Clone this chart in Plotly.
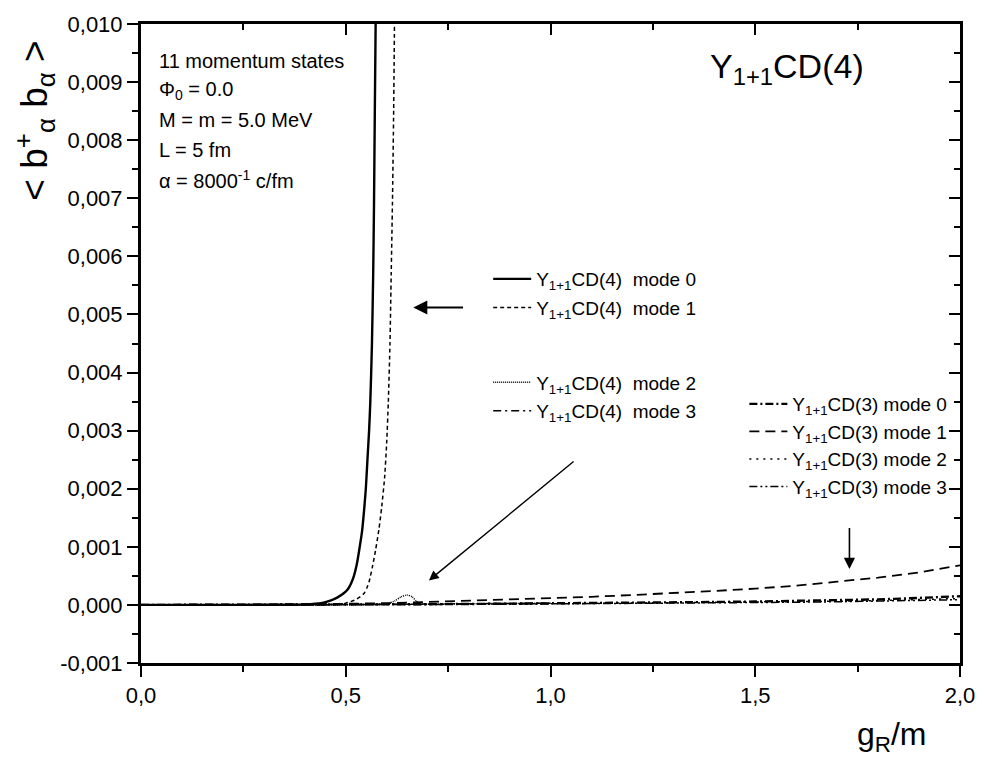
import plotly.graph_objects as go

# Scan in coupling g_R/m
g_cd4_0 = [0.0, 0.10, 0.20, 0.30, 0.40, 0.44, 0.464, 0.48, 0.495, 0.505, 0.513, 0.52, 0.527, 0.533, 0.540, 0.545, 0.549, 0.553, 0.557, 0.560, 0.564, 0.567, 0.569, 0.571, 0.573]
n_cd4_0 = [0.0, 0.0, 0.0, 0.000003, 0.00001, 0.00003, 0.00008, 0.00013, 0.00020, 0.00027, 0.00037, 0.00050, 0.00070, 0.00095, 0.00128, 0.00165, 0.0020, 0.0025, 0.0030, 0.0035, 0.0045, 0.0057, 0.0069, 0.0085, 0.0100]

g_cd4_1 = [0.0, 0.10, 0.20, 0.30, 0.40, 0.48, 0.50, 0.521, 0.535, 0.545, 0.552, 0.557, 0.565, 0.573, 0.581, 0.588, 0.595, 0.600, 0.604, 0.608, 0.611, 0.614, 0.617, 0.619]
n_cd4_1 = [0.0, 0.0, 0.0, 0.0, 0.000002, 0.00001, 0.00003, 0.00008, 0.00014, 0.00020, 0.00030, 0.00040, 0.00065, 0.00095, 0.00130, 0.0017, 0.0022, 0.0028, 0.0035, 0.0045, 0.0057, 0.0069, 0.0085, 0.0100]

g_cd4_2 = [0.0, 0.20, 0.40, 0.55, 0.60, 0.62, 0.635, 0.650, 0.662, 0.672, 0.680, 0.70, 0.80, 1.0]
n_cd4_2 = [0.0, 0.0, 0.0, 0.000005, 0.00002, 0.00007, 0.00014, 0.00017, 0.00014, 0.00007, 0.00002, 0.000015, 0.00002, 0.00003]

g_cd4_3 = [0.0, 0.20, 0.40, 0.60, 0.80, 1.0]
n_cd4_3 = [0.0, 0.0, 0.000002, 0.00001, 0.00002, 0.00003]

g_cd3 = [0.0, 0.20, 0.40, 0.60, 0.70, 0.80, 0.90, 1.00, 1.10, 1.20, 1.30, 1.40, 1.50, 1.60, 1.70, 1.80, 1.90, 2.00]
n_cd3_0 = [0.0, 0.0, 0.000003, 0.000008, 0.000012, 0.000016, 0.00002, 0.000025, 0.00003, 0.000036, 0.000042, 0.00005, 0.000058, 0.000068, 0.00008, 0.000095, 0.00012, 0.00015]
n_cd3_1 = [0.0, 0.0, 0.000008, 0.00003, 0.00005, 0.00007, 0.00009, 0.00011, 0.00014, 0.00017, 0.00020, 0.00024, 0.00028, 0.00033, 0.00040, 0.00047, 0.00056, 0.00068]
n_cd3_2 = [0.0, 0.0, 0.000002, 0.000006, 0.000009, 0.000012, 0.000015, 0.00002, 0.000024, 0.000029, 0.000034, 0.00004, 0.000046, 0.000054, 0.000063, 0.000075, 0.00009, 0.00011]
n_cd3_3 = [0.0, 0.0, 0.000002, 0.000005, 0.000007, 0.00001, 0.000013, 0.000016, 0.00002, 0.000024, 0.000028, 0.000033, 0.000039, 0.000046, 0.000054, 0.000064, 0.000076, 0.00009]

x_ticks = [0.0, 0.5, 1.0, 1.5, 2.0]
x_tick_text = ["0,0", "0,5", "1,0", "1,5", "2,0"]
y_ticks = [-0.001, 0.0, 0.001, 0.002, 0.003, 0.004, 0.005, 0.006, 0.007, 0.008, 0.009, 0.010]
y_tick_text = ["-0,001", "0,000", "0,001", "0,002", "0,003", "0,004", "0,005", "0,006", "0,007", "0,008", "0,009", "0,010"]

cd4_names = ["Y<sub>1+1</sub>CD(4)  mode 0", "Y<sub>1+1</sub>CD(4)  mode 1",
             "Y<sub>1+1</sub>CD(4)  mode 2", "Y<sub>1+1</sub>CD(4)  mode 3"]
cd3_names = ["Y<sub>1+1</sub>CD(3) mode 0", "Y<sub>1+1</sub>CD(3) mode 1",
             "Y<sub>1+1</sub>CD(3) mode 2", "Y<sub>1+1</sub>CD(3) mode 3"]

params = ["11 momentum states", "&#934;<sub>0</sub> = 0.0", "M = m = 5.0 MeV", "L = 5 fm",
          "&#945; = 8000<sup>-1</sup> c/fm"]

FONT = "Liberation Sans, Arial, sans-serif"
BLACK = "#000000"

# plot frame in pixels (used to place paper-referenced items)
W, H = 987, 759
ML, MR, MT, MB = 141, 18, 14, 96
PW, PH = W - ML - MR, H - MT - MB


def px_x(p):
    return (p - ML) / PW


def px_y(p):
    return (H - MB - p) / PH


fig = go.Figure()

cd4_styles = [("solid", 2.4), ("4px,3px", 1.5), ("1px,1px", 1.5), ("8px,4px,2px,4px", 1.5)]
cd4_data = [(g_cd4_0, n_cd4_0), (g_cd4_1, n_cd4_1), (g_cd4_2, n_cd4_2), (g_cd4_3, n_cd4_3)]
for i, ((gx, ny), (dash, w), name) in enumerate(zip(cd4_data, cd4_styles, cd4_names)):
    fig.add_trace(go.Scatter(x=gx, y=ny, mode="lines", name=name, legend="legend" if i == 0 else f"legend{i + 1}",
                             line=dict(color=BLACK, width=w, dash=dash, shape="spline", smoothing=0.6)))

cd3_styles = [("8px,3px,2px,3px", 2.4), ("10px,6px", 1.8), ("2px,5px", 1.5), ("8px,3px,2px,3px,2px,3px", 1.5)]
cd3_data = [n_cd3_0, n_cd3_1, n_cd3_2, n_cd3_3]
for i, (ny, (dash, w), name) in enumerate(zip(cd3_data, cd3_styles, cd3_names)):
    fig.add_trace(go.Scatter(x=g_cd3, y=ny, mode="lines", name=name, legend=f"legend{i + 5}",
                             line=dict(color=BLACK, width=w, dash=dash)))

# empty trace that anchors the mirrored top/right axes
fig.add_trace(go.Scatter(x=[None], y=[None], xaxis="x2", yaxis="y2", showlegend=False, hoverinfo="skip"))

legend_base = dict(bgcolor="rgba(0,0,0,0)", borderwidth=0, font=dict(family=FONT, size=19, color=BLACK),
                   xanchor="left", yanchor="middle", itemwidth=38)

# one legend box per entry: CD(4) block and CD(3) block
cd4_rows = [273, 302, 378, 407]
cd3_rows = [400, 428, 456, 484]
legends = {}
for i, row in enumerate(cd4_rows):
    key = "legend" if i == 0 else f"legend{i + 1}"
    legends[key] = dict(x=px_x(492), y=px_y(row), **legend_base)
for i, row in enumerate(cd3_rows):
    legends[f"legend{i + 5}"] = dict(x=px_x(751), y=px_y(row), **legend_base)

tick_font = dict(family=FONT, size=22, color=BLACK)
axis_common = dict(tickcolor=BLACK, tickwidth=2, ticklen=11, showline=True, linewidth=3, linecolor=BLACK,
                   showgrid=False, zeroline=False)

fig.update_layout(
    width=W, height=H,
    margin=dict(l=ML, r=MR, t=MT, b=MB),
    paper_bgcolor="white", plot_bgcolor="white",
    showlegend=True,
    **legends,
    xaxis=dict(range=[0, 2], tickvals=x_ticks, ticktext=x_tick_text, ticks="outside", tickfont=tick_font,
               minor=dict(dtick=0.25, ticks="outside", ticklen=6, tickwidth=2, tickcolor=BLACK, showgrid=False),
               **axis_common),
    yaxis=dict(range=[-0.001, 0.010], tickvals=y_ticks, ticktext=y_tick_text, ticks="outside", tickfont=tick_font,
               minor=dict(dtick=0.0005, tick0=0, ticks="outside", ticklen=6, tickwidth=2, tickcolor=BLACK,
                          showgrid=False),
               **axis_common),
    xaxis2=dict(overlaying="x", matches="x", anchor="y", side="top", range=[0, 2], tickvals=x_ticks,
                showticklabels=False, ticks="inside",
                minor=dict(dtick=0.25, ticks="inside", ticklen=6, tickwidth=2, tickcolor=BLACK, showgrid=False),
                **axis_common),
    yaxis2=dict(overlaying="y", matches="y", anchor="x", side="right", range=[-0.001, 0.010], tickvals=y_ticks,
                showticklabels=False, ticks="inside",
                minor=dict(dtick=0.0005, tick0=0, ticks="inside", ticklen=6, tickwidth=2, tickcolor=BLACK,
                           showgrid=False),
                **axis_common),
)

# parameter block
for i, txt in enumerate(params):
    fig.add_annotation(xref="paper", yref="paper", x=px_x(157), y=px_y(52 + 30 * i), text=txt, showarrow=False,
                       xanchor="left", yanchor="middle", font=dict(family=FONT, size=20, color=BLACK))

# model label
fig.add_annotation(xref="paper", yref="paper", x=px_x(874), y=px_y(59), text="Y<sub>1+1</sub>CD(4)",
                   showarrow=False, xanchor="right", yanchor="middle", font=dict(family=FONT, size=34, color=BLACK))

# axis titles
fig.add_annotation(xref="paper", yref="paper", x=px_x(33), y=px_y(112),
                   text="&lt; b<sup>+</sup><sub>&#945;</sub> b<sub>&#945;</sub> &gt;",
                   showarrow=False, textangle=-90, xanchor="center", yanchor="middle",
                   font=dict(family=FONT, size=37, color=BLACK))
fig.add_annotation(xref="paper", yref="paper", x=px_x(900), y=px_y(738), text="g<sub>R</sub>/m", showarrow=False,
                   xanchor="center", yanchor="middle", font=dict(family=FONT, size=32, color=BLACK))

# pointer arrows
arrow = dict(xref="x", yref="y", axref="x", ayref="y", showarrow=True, arrowhead=2, arrowsize=1.4,
             arrowcolor=BLACK, text="")
fig.add_annotation(x=0.665, y=0.00512, ax=0.79, ay=0.00512, arrowwidth=2.0, **arrow)
fig.add_annotation(x=0.703, y=0.00042, ax=1.06, ay=0.00249, arrowwidth=1.4, **arrow)
fig.add_annotation(x=1.73, y=0.00062, ax=1.73, ay=0.00135, arrowwidth=1.6, **arrow)

fig.write_html("out.html")
